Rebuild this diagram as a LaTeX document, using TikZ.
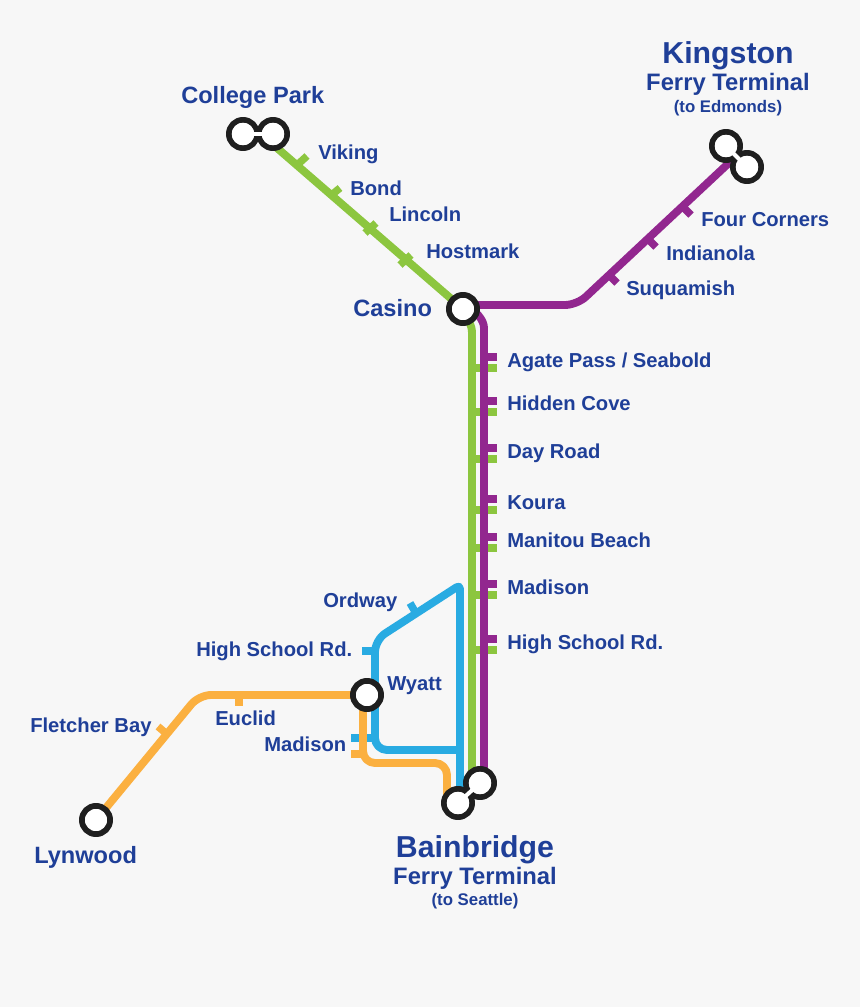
\documentclass[tikz,border=0pt]{standalone}
\usepackage{fontspec}
\setmainfont{Liberation Sans}
\usetikzlibrary{positioning, calc}
\definecolor{mapbg}{HTML}{F7F7F7}
\definecolor{mapink}{HTML}{1F3F98}
\definecolor{greenline}{HTML}{8CC63F}
\definecolor{purpleline}{HTML}{92278F}
\definecolor{blueline}{HTML}{29ABE2}
\definecolor{orangeline}{HTML}{FBB040}
\begin{document}
\begin{tikzpicture}[x=0.75pt, y=-0.75pt, line join=round,
    route/.style={line width=5.9pt, rounded corners=9pt},
    tick/.style={line width=5.6pt},
    stop/.style={circle, draw=black!88, line width=4.3pt, fill=white, minimum size=21.2pt, inner sep=0pt},
    stopcore/.style={circle, fill=white, minimum size=16.9pt, inner sep=0pt},
    neck/.style={line width=10.5pt, draw=black!88},
    neckcore/.style={line width=3pt, draw=white},
    stationname/.style={anchor=base west, text=mapink, font=\bfseries\fontsize{15.15}{18}\selectfont, inner sep=0pt},
    bigname/.style={stationname, font=\bfseries\fontsize{17.7}{20}\selectfont},
    terminal/.style={anchor=base, text=mapink, inner sep=0pt, font=\bfseries\fontsize{22.7}{26}\selectfont},
    subterminal/.style={anchor=base, text=mapink, inner sep=0pt, font=\bfseries\fontsize{17.85}{20}\selectfont},
    terminalnote/.style={anchor=base, text=mapink, inner sep=0pt, font=\bfseries\fontsize{12.6}{14}\selectfont}]
    \fill[mapbg] (0,0) rectangle (860,1007);
    % stations
    \coordinate (cpa) at (243,134);
    \coordinate (cpb) at (273,134);
    \coordinate (kia) at (726,146);
    \coordinate (kib) at (747,167);
    \coordinate (bna) at (480,783);
    \coordinate (bnb) at (458,803);
    \coordinate (cas) at (463,309);
    \coordinate (wya) at (367,695);
    \coordinate (lyn) at (96,820);
    % line ends under the stops
    \coordinate (greenstart) at (262,135);
    \coordinate (greenend) at (472,780);
    \coordinate (purplestart) at (731,161);
    \coordinate (purplecas) at (463,305);
    \coordinate (purpleend) at (484,780);
    \coordinate (blueend) at (460,795);
    \coordinate (orangewya) at (363,695);
    \coordinate (orangeend) at (447,795);
    % ticks on the green line
    \draw[tick, greenline] (296,166) -- (307,156);
    \draw[tick, greenline] (329,197) -- (340,188);
    \draw[tick, greenline] (365,233) -- (376,223);
    \draw[tick, greenline] (400,265) -- (411,255);
    \foreach \y in {368,412,459,510,548,595,650}
        \draw[tick, greenline] (472,\y) -- (497,\y);
    % routes
    \draw[route, greenline] (greenstart) -- (cas) .. controls (468,320) and (472,325) .. (472,345) -- (greenend);
    \draw[tick, blueline] (375,651) -- (362,651);
    \draw[tick, blueline] (375,738) -- (351,738);
    \draw[tick, blueline] (417,615) -- (410,603);
    \draw[route, blueline, rounded corners=3pt] (blueend) -- (460,585) [rounded corners=9pt] -- (375,640) -- (375,750) -- (460,750);
    \draw[tick, orangeline] (363,754) -- (351,754);
    \draw[tick, orangeline] (239,695) -- (239,706);
    \draw[tick, orangeline] (168,735) -- (158,726.5);
    \draw[route, orangeline] (lyn) -- (199,695) -- (wya);
    \draw[route, orangeline] (orangewya) -- (363,763) -- (447,763) -- (orangeend);
    \foreach \y in {357,401,448,499,537,584,639}
        \draw[tick, purpleline] (484,\y) -- (497,\y);
    \draw[tick, purpleline] (682,206) -- (691,215);
    \draw[tick, purpleline] (647,238) -- (656,247);
    \draw[tick, purpleline] (608,274) -- (617,283);
    \draw[route, purpleline] (purplestart) -- (577,305) -- (purplecas);
    \draw[route, purpleline] (purplecas) .. controls (476,310) and (484,320) .. (484,340) -- (purpleend);
    % stops
    \node[stop] (casino) at (cas) {};
    \node[stop] (wyatt) at (wya) {};
    \node[stop] (lynwood) at (lyn) {};
    \node[stop] (collegea) at (cpa) {};
    \node[stop] (collegeb) at (cpb) {};
    \node[stop] (kingstona) at (kia) {};
    \node[stop] (kingstonb) at (kib) {};
    \node[stop] (bainbridgea) at (bna) {};
    \node[stop] (bainbridgeb) at (bnb) {};
    \draw[neck] (collegea) -- (collegeb);
    \draw[neck] (kingstona) -- (kingstonb);
    \draw[neck] (bainbridgea) -- (bainbridgeb);
    \node[stopcore] (corea) at (cpa) {};
    \node[stopcore] (coreb) at (cpb) {};
    \node[stopcore] (corec) at (kia) {};
    \node[stopcore] (cored) at (kib) {};
    \node[stopcore] (coree) at (bna) {};
    \node[stopcore] (coref) at (bnb) {};
    \draw[neckcore] (corea.center) -- (coreb.center);
    \draw[neckcore] (corec.center) -- (cored.center);
    \draw[neckcore] (coree.center) -- (coref.center);
    % labels
    \node[bigname] (lcollege) at (181,103) {College Park};
    \node[stationname] (lviking) at (318,159) {Viking};
    \node[stationname] (lbond) at (350,195) {Bond};
    \node[stationname] (llincoln) at (389,221) {Lincoln};
    \node[stationname] (lhostmark) at (426,258) {Hostmark};
    \node[bigname] (lcasino) at (353,316) {Casino};
    \node[terminal] (lkingston) at (728,63) {Kingston};
    \node[subterminal] (lkferry) at (728,90) {Ferry Terminal};
    \node[terminalnote] (ledmonds) at (728,112) {(to Edmonds)};
    \node[stationname] (lfour) at (701,226) {Four Corners};
    \node[stationname] (lindianola) at (666,260) {Indianola};
    \node[stationname] (lsuquamish) at (626,295) {Suquamish};
    \node[stationname] (lagate) at (507,367) {Agate Pass / Seabold};
    \node[stationname] (lhidden) at (507,410) {Hidden Cove};
    \node[stationname] (lday) at (507,458) {Day Road};
    \node[stationname] (lkoura) at (507,509) {Koura};
    \node[stationname] (lmanitou) at (507,547) {Manitou Beach};
    \node[stationname] (lmadisona) at (507,594) {Madison};
    \node[stationname] (lhigha) at (507,649) {High School Rd.};
    \node[stationname] (lordway) at (323,607) {Ordway};
    \node[stationname] (lhighb) at (196,656) {High School Rd.};
    \node[stationname] (lwyatt) at (387,690) {Wyatt};
    \node[stationname] (leuclid) at (215,725) {Euclid};
    \node[stationname] (lmadisonb) at (264,751) {Madison};
    \node[stationname] (lfletcher) at (30,732) {Fletcher Bay};
    \node[bigname] (llynwood) at (34,863) {Lynwood};
    \node[terminal] (lbainbridge) at (475,857) {Bainbridge};
    \node[subterminal] (lbferry) at (475,884) {Ferry Terminal};
    \node[terminalnote] (lseattle) at (475,905) {(to Seattle)};
\end{tikzpicture}
\end{document}
